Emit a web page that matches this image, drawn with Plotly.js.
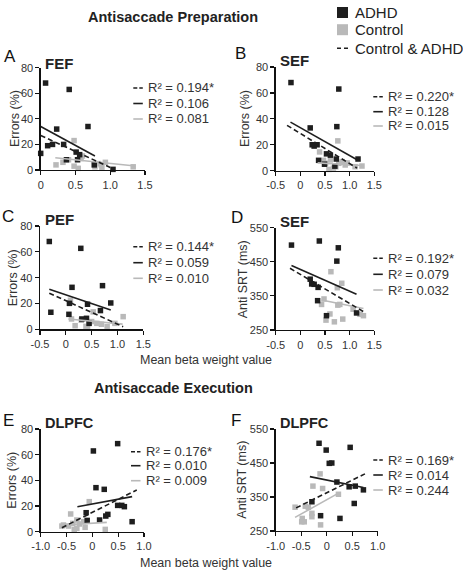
<!DOCTYPE html>
<html><head><meta charset="utf-8">
<script src="https://cdn.plot.ly/plotly-3.0.1.min.js"></script>
<style>html,body{margin:0;padding:0;background:#fff}#chart{width:463px;height:574px}</style>
</head><body><div id="chart"></div>
<script>
// ---------- DATA ----------
// Panel A: FEF, errors
const A_adhd_x = [0.07,0.41,0.68,0.23,0.10,0.17,0.33,0.00,0.51,0.56,0.37,0.53,0.77,1.04];
const A_adhd_y = [68,63,34,32,19,20,20,13,14,12,8,8,4,0.5];
const A_ctrl_x = [0.48,0.58,0.22,0.32,0.48,0.54,0.40,0.78,0.83,0.87,0.93,0.88,1.33,0.60];
const A_ctrl_y = [23,9,4,6,3,1.3,8,2.5,5,4,6,2,2.5,11];
const A_fit_all_x = [0.0,1.0],  A_fit_all_y = [27,2];
const A_fit_adhd_x = [0.0,0.78], A_fit_adhd_y = [34,11];
const A_fit_ctrl_x = [0.21,1.36], A_fit_ctrl_y = [9.6,3.1];
const A_r2 = ["0.194*","0.106","0.081"];

// Panel B: SEF, errors
const B_adhd_x = [-0.19,0.78,0.20,0.74,0.24,0.28,0.34,0.53,0.61,0.73,0.37,0.49,1.17,0.70];
const B_adhd_y = [68,63,33,34,20,19,20,13,12,9,8,5,9,3.5];
const B_ctrl_x = [0.76,0.39,0.47,0.51,0.61,0.67,0.78,0.85,0.91,1.11,1.25,0.58,0.72,0.95];
const B_ctrl_y = [23,14.5,8,5.7,8.3,2,5.7,7,4.4,3.1,3.6,1,3,6];
const B_fit_all_x = [-0.27,1.15], B_fit_all_y = [35,2];
const B_fit_adhd_x = [-0.2,1.15], B_fit_adhd_y = [37.5,8.5];
const B_fit_ctrl_x = [0.35,1.25], B_fit_ctrl_y = [6,4];
const B_r2 = ["0.220*","0.128","0.015"];

// Panel C: PEF, errors
const C_adhd_x = [-0.32,0.29,0.71,0.12,-0.29,0.07,0.42,0.87,0.06,0.67,0.31,0.40,0.45];
const C_adhd_y = [68,62.7,33.8,32.5,13.2,20.1,19.4,20.4,11.6,14.5,8,8.5,4.6];
const C_ctrl_x = [0.09,0.53,1.11,0.11,0.18,0.39,0.50,0.60,0.69,0.80,0.95,0.42,0.30,0.45];
const C_ctrl_y = [22.5,13.5,9.8,8,2.8,2.3,6,4.6,3.9,2,4.6,0.8,7,5];
const C_fit_all_x = [-0.32,1.11], C_fit_all_y = [28,2];
const C_fit_adhd_x = [-0.32,0.87], C_fit_adhd_y = [31,15];
const C_fit_ctrl_x = [0.05,1.1], C_fit_ctrl_y = [8,4];
const C_r2 = ["0.144*","0.059","0.010"];

// Panel D: SEF, anti SRT
const D_adhd_x = [-0.18,0.385,0.77,0.74,0.20,0.23,0.28,0.36,0.35,0.53,1.14];
const D_adhd_y = [499,511,491,452,399,385,384,375,336,292,300];
const D_ctrl_x = [0.62,0.84,0.75,0.43,0.60,0.52,0.69,0.86,0.76,0.80,1.07,1.21,1.28,0.48];
const D_ctrl_y = [421,387,374,325,297,279,274,282,323,325,311,296,292,341];
const D_fit_all_x = [-0.21,1.28], D_fit_all_y = [431,304];
const D_fit_adhd_x = [-0.18,1.14], D_fit_adhd_y = [439,355];
const D_fit_ctrl_x = [0.43,1.28], D_fit_ctrl_y = [338,313];
const D_r2 = ["0.192*","0.079","0.032"];

// Panel E: DLPFC, errors
const E_adhd_x = [0.49,0.02,0.07,0.23,0.49,0.57,0.62,0.77,-0.12,-0.10,0.14,0.26,0.30];
const E_adhd_y = [68.6,62.9,34.3,33,20.5,20.5,19.5,7.8,14.8,8.8,9.1,12.2,13.5];
const E_ctrl_x = [-0.06,-0.42,-0.56,-0.46,-0.38,-0.30,-0.25,-0.17,-0.30,-0.35,0.25,-0.14,-0.59];
const E_ctrl_y = [23.4,13.8,5.2,4.4,6.5,9.1,6,7.8,2.6,1.8,1.8,3.4,4.4];
const E_fit_all_x = [-0.59,0.86], E_fit_all_y = [3.1,32.5];
const E_fit_adhd_x = [-0.29,0.77], E_fit_adhd_y = [19.5,27.3];
const E_fit_ctrl_x = [-0.59,0.28], E_fit_ctrl_y = [5.2,7.3];
const E_r2 = ["0.176*","0.010","0.009"];

// Panel F: DLPFC, anti SRT
const F_adhd_x = [-0.15,-0.01,0.46,0.05,0.10,0.20,0.44,0.56,0.72,0.54,-0.29,-0.12,0.26];
const F_adhd_y = [508,488,496,449,450,394,380,382,371,331,336,295,287];
const F_ctrl_x = [-0.13,-0.27,-0.08,0.23,-0.62,-0.36,-0.42,-0.29,-0.29,-0.48,-0.44,-0.49,-0.12];
const F_ctrl_y = [418,382,375,358,320,320,323,302,292,287,277,277,268];
const F_fit_all_x = [-0.60,0.75], F_fit_all_y = [318,418];
const F_fit_adhd_x = [-0.33,0.72], F_fit_adhd_y = [410,378];
const F_fit_ctrl_x = [-0.62,0.25], F_fit_ctrl_y = [290,363];
const F_r2 = ["0.169*","0.014","0.244"];

// Tick labels
const xTicksA = [0,0.5,1,1.5],        xTextA = ["0","0.5","1.0","1.5"];
const xTicksB = [-0.5,0,0.5,1,1.5],   xTextB = ["-0.5","0","0.5","1.0","1.5"];
const xTicksE = [-1,-0.5,0,0.5,1],    xTextE = ["-1.0","-0.5","0","0.5","1.0"];
const yTicksErr = [0,20,40,60,80];
const yTicksSRT = [250,350,450,550];

// ---------- LAYOUT ----------
const W = 463, H = 574;
const px = v => v / W, py = v => 1 - v / H;
const FONT = "Liberation Sans, Arial, Helvetica, sans-serif";
const BLACK = "#1e1e1e", GRAY = "#b9b9b9";

const panels = [
  {L:"A", name:"FEF", ax:[A_adhd_x,A_adhd_y,A_ctrl_x,A_ctrl_y], fits:[[A_fit_all_x,A_fit_all_y],[A_fit_adhd_x,A_fit_adhd_y],[A_fit_ctrl_x,A_fit_ctrl_y]], r2:A_r2,
   xr:[0,1.5], xt:[xTicksA,xTextA], yr:[0,80], yt:yTicksErr, ytitle:"Errors (%)",
   X:[40.7,145], Y:[67.7,170], letter:[10,56.7], title:[43.3,63.3], ytpos:[15,119], leg:[133.3,145.7,[88,103.5,119]]},
  {L:"B", name:"SEF", ax:[B_adhd_x,B_adhd_y,B_ctrl_x,B_ctrl_y], fits:[[B_fit_all_x,B_fit_all_y],[B_fit_adhd_x,B_fit_adhd_y],[B_fit_ctrl_x,B_fit_ctrl_y]], r2:B_r2,
   xr:[-0.5,1.5], xt:[xTicksB,xTextB], yr:[0,80], yt:yTicksErr, ytitle:"Errors (%)",
   X:[275.7,374.3], Y:[67,170.7], letter:[240,53.3], title:[278.3,60], ytpos:[245,119], leg:[373.3,385.7,[96.7,111.7,126]]},
  {L:"C", name:"PEF", ax:[C_adhd_x,C_adhd_y,C_ctrl_x,C_ctrl_y], fits:[[C_fit_all_x,C_fit_all_y],[C_fit_adhd_x,C_fit_adhd_y],[C_fit_ctrl_x,C_fit_ctrl_y]], r2:C_r2,
   xr:[-0.5,1.5], xt:[xTicksB,xTextB], yr:[0,80], yt:yTicksErr, ytitle:"Errors (%)",
   X:[40,143.3], Y:[226,329.3], letter:[8,216], title:[43.3,220], ytpos:[13.3,278], leg:[133.3,145.7,[246.7,262.7,278.3]]},
  {L:"D", name:"SEF", ax:[D_adhd_x,D_adhd_y,D_ctrl_x,D_ctrl_y], fits:[[D_fit_all_x,D_fit_all_y],[D_fit_adhd_x,D_fit_adhd_y],[D_fit_ctrl_x,D_fit_ctrl_y]], r2:D_r2,
   xr:[-0.5,1.5], xt:[xTicksB,xTextB], yr:[250,550], yt:yTicksSRT, ytitle:"Anti SRT (ms)",
   X:[275.7,374.3], Y:[227.7,330], letter:[237,217], title:[278,221.7], ytpos:[243.3,279], leg:[373.3,385.7,[258.3,274.3,290]]},
  {L:"E", name:"DLPFC", ax:[E_adhd_x,E_adhd_y,E_ctrl_x,E_ctrl_y], fits:[[E_fit_all_x,E_fit_all_y],[E_fit_adhd_x,E_fit_adhd_y],[E_fit_ctrl_x,E_fit_ctrl_y]], r2:E_r2,
   xr:[-1,1], xt:[xTicksE,xTextE], yr:[0,80], yt:yTicksErr, ytitle:"Errors (%)",
   X:[40.7,144], Y:[429,531.7], letter:[8,420], title:[43.3,423.3], ytpos:[11.7,480], leg:[131,144,[451.7,465.7,480.7]]},
  {L:"F", name:"DLPFC", ax:[F_adhd_x,F_adhd_y,F_ctrl_x,F_ctrl_y], fits:[[F_fit_all_x,F_fit_all_y],[F_fit_adhd_x,F_fit_adhd_y],[F_fit_ctrl_x,F_fit_ctrl_y]], r2:F_r2,
   xr:[-1,1], xt:[xTicksE,xTextE], yr:[250,550], yt:yTicksSRT, ytitle:"Anti SRT (ms)",
   X:[275.7,377.7], Y:[429,531], letter:[236,420], title:[278,423.3], ytpos:[241.7,480], leg:[373.3,385.7,[460,475,490]]}
];

const traces = [];
const layout = {
  width: W, height: H, margin:{l:0,r:0,t:0,b:0}, paper_bgcolor:"#fff", plot_bgcolor:"rgba(0,0,0,0)",
  showlegend:false, font:{family:FONT, color:"#222"}, annotations:[], shapes:[]
};

const sectionTitles = ["Antisaccade Preparation","Antisaccade Execution"];
const sectionY = [17, 388];
sectionTitles.forEach((t,k) => layout.annotations.push({xref:"paper", yref:"paper", x:px(173), y:py(sectionY[k]),
  xanchor:"center", yanchor:"middle", text:"<b>"+t+"</b>", showarrow:false, font:{family:FONT, size:14.5, color:"#222"}}));
const xLabel = "Mean beta weight value";
[360, 563].forEach(yy => layout.annotations.push({xref:"paper", yref:"paper", x:px(138.3), y:py(yy),
  xanchor:"left", yanchor:"middle", text:xLabel, showarrow:false, font:{family:FONT, size:12.5, color:"#333"}}));

const groupNames = ["ADHD","Control","Control & ADHD"];
const groupY = [12.5, 29.7, 48.3];
layout.shapes.push({type:"rect", xref:"paper", yref:"paper", x0:px(337), x1:px(348), y0:py(18), y1:py(7), fillcolor:BLACK, line:{width:0}});
layout.shapes.push({type:"rect", xref:"paper", yref:"paper", x0:px(337), x1:px(348), y0:py(35.2), y1:py(24.2), fillcolor:GRAY, line:{width:0}});
layout.shapes.push({type:"line", xref:"paper", yref:"paper", x0:px(337), x1:px(348), y0:py(48.3), y1:py(48.3), line:{color:BLACK, width:1.4, dash:"4px,3px"}});
groupNames.forEach((g,k) => layout.annotations.push({xref:"paper", yref:"paper", x:px(352.7), y:py(groupY[k]),
  xanchor:"left", yanchor:"middle", text:g, showarrow:false, font:{family:FONT, size:15, color:"#222"}}));

const lineStyles = [
  {color:BLACK, width:1.6, dash:"5px,3px"},
  {color:BLACK, width:1.6, dash:"solid"},
  {color:GRAY,  width:1.6, dash:"solid"}
];

panels.forEach((p,i) => {
  const n = i+1, xa = "x"+(n===1?"":n), ya = "y"+(n===1?"":n);
  const xk = "xaxis"+(n===1?"":n), yk = "yaxis"+(n===1?"":n);
  const common = {showgrid:false, zeroline:false, showline:true, linecolor:"#111", linewidth:1.3,
    ticks:"outside", ticklen:4, tickwidth:1.2, tickcolor:"#111", fixedrange:true,
    tickfont:{family:FONT, size:11, color:"#333"}};
  layout[xk] = Object.assign({}, common, {domain:[px(p.X[0]),px(p.X[1])], range:p.xr, anchor:ya,
    tickmode:"array", tickvals:p.xt[0], ticktext:p.xt[1]});
  layout[yk] = Object.assign({}, common, {domain:[py(p.Y[1]),py(p.Y[0])], range:p.yr, anchor:xa,
    tickmode:"array", tickvals:p.yt, ticktext:p.yt.map(String)});

  traces.push({type:"scatter", mode:"markers", x:p.ax[2], y:p.ax[3], xaxis:xa, yaxis:ya, cliponaxis:false,
    marker:{symbol:"square", size:5.5, color:GRAY}, hoverinfo:"skip"});
  traces.push({type:"scatter", mode:"markers", x:p.ax[0], y:p.ax[1], xaxis:xa, yaxis:ya, cliponaxis:false,
    marker:{symbol:"square", size:5.5, color:BLACK}, hoverinfo:"skip"});
  [2,1,0].forEach(k => {
    traces.push({type:"scatter", mode:"lines", x:p.fits[k][0], y:p.fits[k][1], xaxis:xa, yaxis:ya,
      line:lineStyles[k], hoverinfo:"skip", cliponaxis:false});
  });

  layout.annotations.push({xref:"paper", yref:"paper", x:px(p.letter[0]), y:py(p.letter[1]), xanchor:"center", yanchor:"middle",
    text:p.L, showarrow:false, font:{family:FONT, size:17, color:"#111"}});
  layout.annotations.push({xref:"paper", yref:"paper", x:px(p.title[0]), y:py(p.title[1]), xanchor:"left", yanchor:"middle",
    text:"<b>"+p.name+"</b>", showarrow:false, font:{family:FONT, size:p.name.length>3?14.5:15, color:"#222"}});
  layout.annotations.push({xref:"paper", yref:"paper", x:px(p.ytpos[0]), y:py(p.ytpos[1]), xanchor:"center", yanchor:"middle",
    text:p.ytitle, textangle:-90, showarrow:false, font:{family:FONT, size:12.5, color:"#333"}});
  p.leg[2].forEach((yy,k) => {
    layout.shapes.push({type:"line", xref:"paper", yref:"paper", x0:px(p.leg[0]), x1:px(p.leg[0]+9.5), y0:py(yy), y1:py(yy),
      line:{color:lineStyles[k].color, width:1.6, dash:k===0?"4px,2px":"solid"}});
    layout.annotations.push({xref:"paper", yref:"paper", x:px(p.leg[1]), y:py(yy), xanchor:"left", yanchor:"middle",
      text:"R\u00b2 = "+p.r2[k], showarrow:false, font:{family:FONT, size:13, color:"#333"}});
  });
});

Plotly.newPlot("chart", traces, layout, {staticPlot:true, displayModeBar:false});
</script></body></html>
